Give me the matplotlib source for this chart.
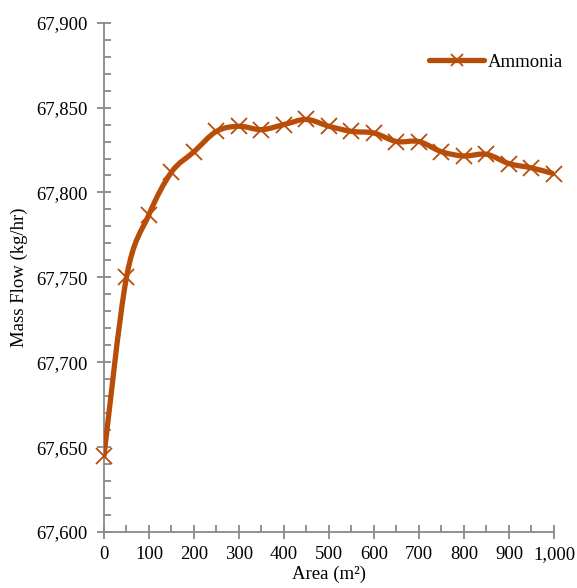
import matplotlib
matplotlib.use('Agg')
import matplotlib.pyplot as plt
from matplotlib.path import Path
from matplotlib.patches import PathPatch
from matplotlib.lines import Line2D
from matplotlib.ticker import FuncFormatter, MultipleLocator
import numpy as np

plt.rcParams['font.family'] = ['Liberation Serif', 'DejaVu Serif']

area = [0, 50, 100, 150, 200, 250, 300, 350, 400, 450, 500,
        550, 600, 650, 700, 750, 800, 850, 900, 950, 1000]
mass_flow = [67645, 67750, 67787, 67812, 67824, 67836, 67839, 67837, 67840, 67843, 67839,
             67836, 67835, 67830, 67830, 67824, 67821.5, 67822.5, 67817, 67814.5, 67811]

color = '#B84D0A'
axis_gray = '#898989'

fig = plt.figure(figsize=(5.77, 5.88), dpi=100)
ax = fig.add_axes([0.1802, 0.0952, 0.7799, 0.8662])

# smoothed line (Catmull-Rom -> cubic Bezier, like Excel's smooth line)
pts = np.column_stack([area, mass_flow]).astype(float)
verts = [pts[0]]
codes = [Path.MOVETO]
n = len(pts)
for i in range(n - 1):
    p0 = pts[max(i - 1, 0)]
    p1 = pts[i]
    p2 = pts[i + 1]
    p3 = pts[min(i + 2, n - 1)]
    c1 = p1 + (p2 - p0) / 6.0
    c2 = p2 - (p3 - p1) / 6.0
    verts += [c1, c2, p2]
    codes += [Path.CURVE4] * 3
ax.add_patch(PathPatch(Path(verts, codes), facecolor='none', edgecolor=color,
                       lw=3.8, capstyle='round', joinstyle='round', zorder=3))
ax.plot(area, mass_flow, ls='none', marker='x', ms=12, mew=1.3, color=color,
        zorder=4, clip_on=False)

ax.set_xlim(0, 1000)
ax.set_ylim(67600, 67900)
ax.xaxis.set_major_locator(MultipleLocator(100))
ax.xaxis.set_minor_locator(MultipleLocator(50))
ax.yaxis.set_major_locator(MultipleLocator(50))
ax.yaxis.set_minor_locator(MultipleLocator(10))
fmt = FuncFormatter(lambda v, p: f'{v:,.0f}')
ax.xaxis.set_major_formatter(fmt)
ax.yaxis.set_major_formatter(fmt)

for s in ['top', 'right']:
    ax.spines[s].set_visible(False)
for s in ['left', 'bottom']:
    ax.spines[s].set_color(axis_gray)
    ax.spines[s].set_linewidth(1.3)

ax.tick_params(which='major', direction='inout', length=10, width=1.3, color=axis_gray,
               labelsize=13.5)
ax.tick_params(axis='x', which='major', pad=5)
ax.tick_params(axis='y', which='major', pad=7)
ax.tick_params(which='minor', direction='in', length=5, width=1.3, color=axis_gray)

ax.set_xlabel('Area (m²)', fontsize=13.5, labelpad=2)
ax.set_ylabel('Mass Flow (kg/hr)', fontsize=13.5, labelpad=6)

handle = Line2D([], [], color=color, lw=3.8, marker='x', ms=9, mew=1.3,
                solid_capstyle='round')
ax.legend([handle], ['Ammonia'], loc='upper right', bbox_to_anchor=(1.057, 0.972),
          frameon=False, fontsize=13.5, handlelength=2.9, handletextpad=0.2)

fig.savefig('out.png', dpi=100, facecolor='white')
